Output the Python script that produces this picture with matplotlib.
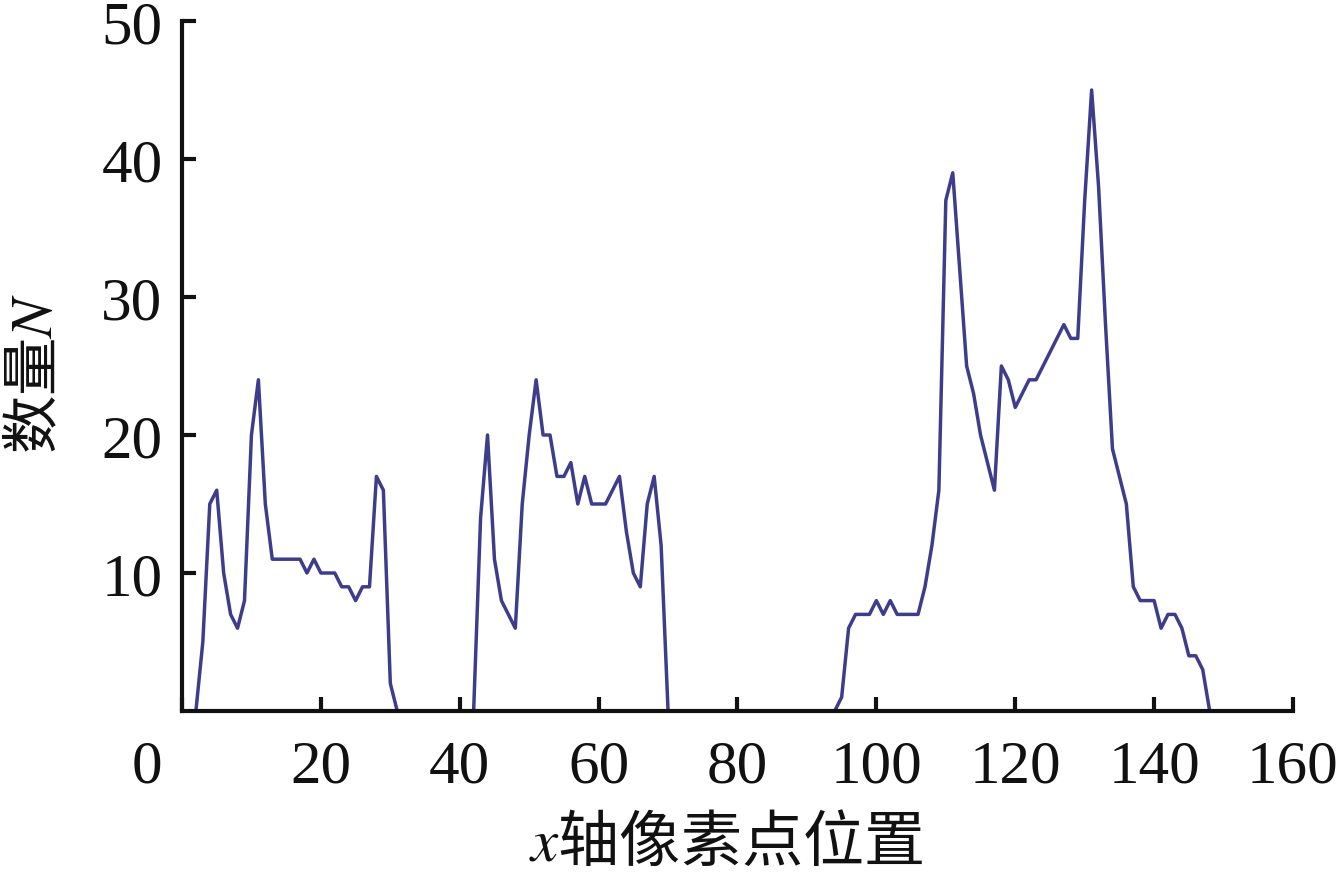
import numpy as np
import matplotlib
matplotlib.use('Agg')
import matplotlib.pyplot as plt
import matplotlib.transforms as mtransforms

plt.rcParams['font.family'] = ['Liberation Serif', 'Noto Sans CJK SC']
plt.rcParams['mathtext.fontset'] = 'stix'

# pixel positions along x (start) and counts
X_START = 2
counts = [
    0, 5, 15, 16, 10, 7, 6, 8, 20, 24,          # 2-11
    15, 11, 11, 11, 11, 11, 10, 11, 10, 10,     # 12-21
    10, 9, 9, 8, 9, 9, 17, 16, 2, 0,            # 22-31
    0, 0, 0, 0, 0, 0, 0, 0, 0, 0,               # 32-41
    0, 14, 20, 11, 8, 7, 6, 15, 20, 24,         # 42-51
    20, 20, 17, 17, 18, 15, 17, 15, 15, 15,     # 52-61
    16, 17, 13, 10, 9, 15, 17, 12, 0, 0,        # 62-71
    0, 0, 0, 0, 0, 0, 0, 0, 0, 0,               # 72-81
    0, 0, 0, 0, 0, 0, 0, 0, 0, 0,               # 82-91
    0, 0, 0, 1, 6, 7, 7, 7, 8, 7,               # 92-101
    8, 7, 7, 7, 7, 9, 12, 16, 37, 39,           # 102-111
    32, 25, 23, 20, 18, 16, 25, 24, 22, 23,     # 112-121
    24, 24, 25, 26, 27, 28, 27, 27, 37, 45,     # 122-131
    38, 28, 19, 17, 15, 9, 8, 8, 8, 6,          # 132-141
    7, 7, 6, 4, 4, 3, 0,                        # 142-148
]
x_pos = np.arange(X_START, X_START + len(counts))

x_ticks = [0, 20, 40, 60, 80, 100, 120, 140, 160]
y_ticks = [10, 20, 30, 40, 50]

fig = plt.figure(figsize=(13.39, 8.78), dpi=100)
ax = fig.add_axes([182/1339, 1 - 712/878, 1111/1339, 690/878])

ax.plot(x_pos, counts, color='#3d3d8c', lw=2.5)

ax.set_xlim(0, 160)
ax.set_ylim(0, 50)
ax.set_xticks(x_ticks)
ax.set_yticks(y_ticks)

for s in ['top', 'right']:
    ax.spines[s].set_visible(False)
for s in ['left', 'bottom']:
    ax.spines[s].set_linewidth(3)
    ax.spines[s].set_color('#111111')

ax.tick_params(direction='in', length=10, width=3, color='#111111',
               labelsize=44, labelcolor='#111111')
ax.tick_params(axis='x', pad=20)
ax.tick_params(axis='y', pad=14)

# the origin label sits left of the corner
lbl0 = ax.get_xticklabels()[0]
lbl0.set_transform(lbl0.get_transform() +
                   mtransforms.ScaledTranslation(-35/100, 0, fig.dpi_scale_trans))

ax.set_xlabel('$x$轴像素点位置', fontsize=44,
              family=['Noto Sans CJK SC', 'Liberation Serif'], color='#111111')
ax.xaxis.set_label_coords(0.49, -0.145)
ax.set_ylabel('数量$N$', fontsize=42,
              family=['Noto Sans CJK SC', 'Liberation Serif'], color='#111111')
ax.yaxis.set_label_coords(-0.104, 0.49)

fig.savefig('out.png', dpi=100)
